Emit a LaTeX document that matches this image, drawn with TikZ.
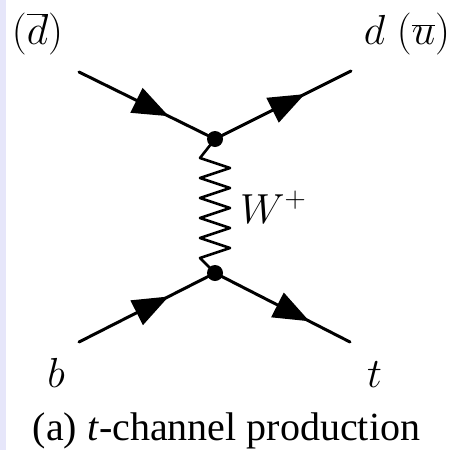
\RequirePackage{fix-cm}
\documentclass[tikz,border=0pt]{standalone}
\usepackage{fontspec}
\setmainfont{Liberation Serif}
\usetikzlibrary{arrows.meta,decorations.markings}
\definecolor{lav}{RGB}{230,230,250}
\tikzset{
  fermion/.style={line width=3pt,line cap=round,
    postaction={decorate},
    decoration={markings,mark=at position #1 with {\arrow{Triangle[length=36pt,width=27pt]}}}},
  fermion/.default=0.66,
  vertexdot/.style={circle,fill=black,inner sep=0pt,minimum size=16pt},
  boson/.style={line width=2.6pt,line join=round},
  mathlabel/.style={inner sep=0pt,font=\fontsize{42}{50}\selectfont},
  captext/.style={inner sep=0pt,font=\rmfamily\fontsize{40}{48}\selectfont}
}
\begin{document}
\begin{tikzpicture}[x=1pt,y=-1pt]
\useasboundingbox (0,0) rectangle (457,450);
\fill[lav] (0,0) rectangle (6,450);
% endpoints
\coordinate (a1) at (79,72);
\coordinate (a2) at (351,71);
\coordinate (a3) at (79,342);
\coordinate (a4) at (350,342);
\coordinate (v1c) at (215,139);
\coordinate (v2c) at (215,273);
% fermion lines
\draw[fermion] (a1) -- (v1c);
\draw[fermion] (v1c) -- (a2);
\draw[fermion] (a3) -- (v2c);
\draw[fermion=0.7] (v2c) -- (a4);
% W boson zigzag
\draw[boson] (v1c) -- ++(-15,19)
  -- ++(30,10) -- ++(-30,10)
  -- ++(30,10) -- ++(-30,10)
  -- ++(30,10) -- ++(-30,10)
  -- ++(30,10) -- ++(-30,10)
  -- ++(30,10) -- ++(-30,10)
  -- (v2c);
% vertices
\node[vertexdot] (v1) at (v1c) {};
\node[vertexdot] (v2) at (v2c) {};
% labels
\node[mathlabel,anchor=base] (l1) at (37.5,44.5) {$(\overline{d})$};
\node[mathlabel,anchor=base] (l2) at (407,44.5) {$d\;(\overline{u})$};
\node[mathlabel,anchor=base west] (lw) at (240,223) {$W^{+}$};
\node[mathlabel,anchor=base] (lb) at (56,387) {$b$};
\node[mathlabel,anchor=base] (lt) at (374.5,387) {$t$};
\node[captext,anchor=base] (cap) at (226.5,440) {(a) \textit{t}-channel production};
\end{tikzpicture}
\end{document}
